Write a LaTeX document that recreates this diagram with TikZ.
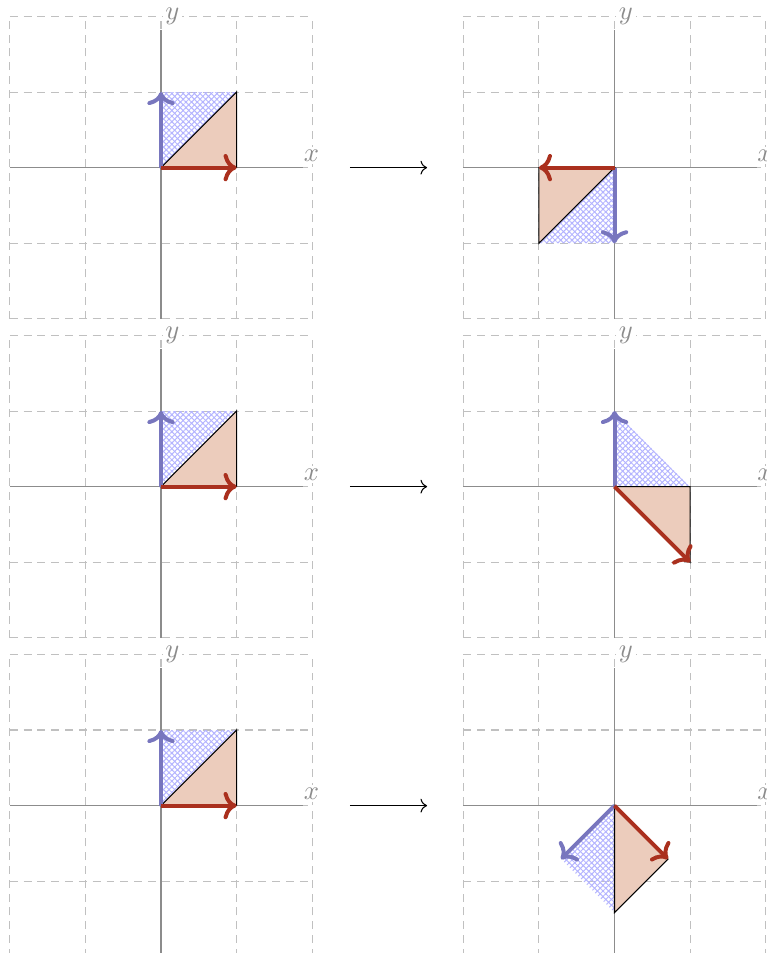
\documentclass[tikz,border=0pt]{standalone}
\usetikzlibrary{arrows.meta,patterns.meta}
\definecolor{vred}{RGB}{170,48,30}
\definecolor{vblue}{RGB}{120,118,190}
\definecolor{salmonc}{RGB}{236,204,188}
\definecolor{hatchc}{RGB}{180,180,255}
\definecolor{gridc}{RGB}{192,192,192}
\definecolor{axisc}{RGB}{140,140,140}
\tikzset{
  gridline/.style={gridc, dash pattern=on 3pt off 2.2pt, line width=0.4pt},
  axisline/.style={axisc, line width=0.5pt},
  axlabel/.style={text=axisc, fill=white, inner sep=1pt},
  vecred/.style={vred, line width=1.5pt, -{Computer Modern Rightarrow}},
  vecblue/.style={vblue, line width=1.5pt, -{Computer Modern Rightarrow}},
  salmontri/.style={fill=salmonc, draw=black, line width=0.4pt},
  hatchA/.style={pattern={Lines[angle=45,distance=1.5pt,line width=0.38pt]}, pattern color=hatchc},
  hatchB/.style={pattern={Lines[angle=-45,distance=1.5pt,line width=0.38pt]}, pattern color=hatchc},
  mapto/.style={black, line width=0.4pt, -{Computer Modern Rightarrow}},
  panel/.pic={
    \draw[gridline] (-2,-2) grid (2,2);
    \draw[axisline] (-2,0) -- (1.88,0);
    \draw[axisline] (0,-2) -- (0,1.82);
    \node[axlabel] (-x) at (1.99,0.16) {$x$};
    \node[axlabel] (-y) at (0.15,2.0) {$y$};
  }
}
\newcommand{\unitmap}[5]{%
  \begin{scope}[shift={#2}]
    \coordinate (#1O) at (0,0);
    \coordinate (#1A) at #3;
    \coordinate (#1B) at #4;
    \coordinate (#1C) at #5;
    \fill[hatchA] (#1O) -- (#1B) -- (#1C) -- cycle;
    \fill[hatchB] (#1O) -- (#1B) -- (#1C) -- cycle;
    \draw[salmontri] (#1O) -- (#1A) -- (#1C) -- cycle;
    \draw[vecblue] (#1O) -- (#1B);
    \draw[vecred] (#1O) -- (#1A);
  \end{scope}%
}
\begin{document}
\begin{tikzpicture}
\useasboundingbox (-2.13,-10.39) rectangle (8.016,2.218);
% panels
\pic (p1l) at (0,0) {panel};
\pic (p1r) at (6,0) {panel};
\pic (p2l) at (0,-4.22) {panel};
\pic (p2r) at (6,-4.22) {panel};
\pic (p3l) at (0,-8.44) {panel};
\pic (p3r) at (6,-8.44) {panel};
% contents
\unitmap{ql}{(0,0)}{(1,0)}{(0,1)}{(1,1)}
\unitmap{qr}{(6,0)}{(-1,0)}{(0,-1)}{(-1,-1)}
\unitmap{sl}{(0,-4.22)}{(1,0)}{(0,1)}{(1,1)}
\unitmap{sr}{(6,-4.22)}{(1,-1)}{(0,1)}{(1,0)}
\unitmap{tl}{(0,-8.44)}{(1,0)}{(0,1)}{(1,1)}
\unitmap{tr}{(6,-8.44)}{(0.7071,-0.7071)}{(-0.7071,-0.7071)}{(0,-1.4142)}
% mapping arrows
\coordinate (m1s) at (2.5,0);      \coordinate (m1e) at (3.52,0);
\coordinate (m2s) at (2.5,-4.22);  \coordinate (m2e) at (3.52,-4.22);
\coordinate (m3s) at (2.5,-8.44);  \coordinate (m3e) at (3.52,-8.44);
\draw[mapto] (m1s) -- (m1e);
\draw[mapto] (m2s) -- (m2e);
\draw[mapto] (m3s) -- (m3e);
\end{tikzpicture}
\end{document}
